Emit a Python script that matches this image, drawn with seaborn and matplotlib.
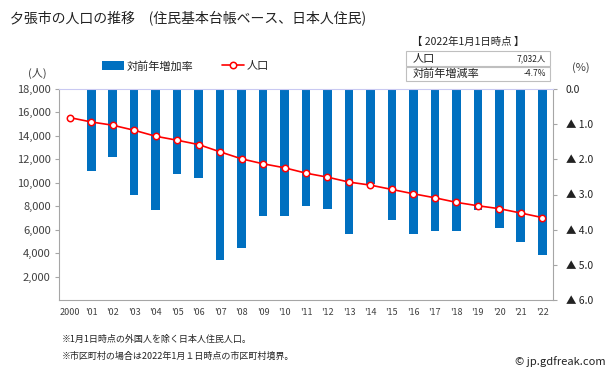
import matplotlib
matplotlib.use('Agg')
import matplotlib.pyplot as plt
from matplotlib.patches import Rectangle
import numpy as np
import seaborn as sns

# data
years = ['2000', "'01", "'02", "'03", "'04", "'05", "'06", "'07", "'08", "'09", "'10",
         "'11", "'12", "'13", "'14", "'15", "'16", "'17", "'18", "'19", "'20", "'21", "'22"]
population = [15560, 15190, 14910, 14480, 13970, 13630, 13260, 12640, 12040, 11620, 11280,
              10820, 10480, 10060, 9800, 9430, 9060, 8720, 8330, 8040, 7790, 7420, 7032]
change_rate = [np.nan, -2.33, -1.92, -3.02, -3.43, -2.42, -2.52, -4.85, -4.53, -3.61, -3.61,
               -3.33, -3.42, -4.13, -2.70, -3.72, -4.13, -4.03, -4.03, -3.43, -3.94, -4.34, -4.72]
pop_ticks = [2000, 4000, 6000, 8000, 10000, 12000, 14000, 16000, 18000]
rate_ticks = [0, -1, -2, -3, -4, -5, -6]

sns.set_style('white')
plt.rcParams['font.family'] = ['Noto Sans CJK JP', 'DejaVu Sans']

BLUE = '#0070C0'
RED = '#FF0000'
GREY = '#A6A6A6'
TXT = '#404040'

fig = plt.figure(figsize=(6.13, 3.74), dpi=100)
ax1 = fig.add_axes([59 / 613, 1 - 300 / 374, (553 - 59) / 613, (300 - 89) / 374])
ax2 = ax1.twinx()

sns.barplot(x=years, y=change_rate, ax=ax2, color=BLUE, width=0.4,
            saturation=1, linewidth=0, label='対前年増加率')
ax2.set_ylim(-6, 0)
ax2.set_yticks(rate_ticks)
ax2.set_yticklabels(['0.0'] + [f'▲ {abs(v):.1f}' for v in rate_ticks[1:]])

pos = np.arange(len(years))
sns.lineplot(x=pos, y=population, ax=ax1, color=RED, linewidth=1.2, marker='o',
             markersize=4.6, markerfacecolor='white', markeredgecolor=RED,
             markeredgewidth=1.1, label='人口')
ax1.set_ylim(0, 18000)
ax1.set_yticks(pop_ticks)
ax1.set_yticklabels([f'{v:,}' for v in pop_ticks])

# line above the bars
ax1.set_zorder(ax2.get_zorder() + 1)
ax1.patch.set_visible(False)

ax1.set_xlim(-0.5, len(years) - 0.5)
ax1.set_xticks(pos)
ax1.set_xticklabels(years)
ax1.set_xticks(np.arange(len(years) + 1) - 0.5, minor=True)
ax1.tick_params(axis='x', which='major', length=0, labelsize=6.5, colors=TXT, pad=6)
ax1.tick_params(axis='x', which='minor', length=3, color=GREY, direction='inout')
ax1.tick_params(axis='y', length=3, color=GREY, labelsize=8, colors=TXT, pad=3,
                direction='out', left=True)
ax2.tick_params(axis='y', length=3, color=GREY, labelsize=7.5, colors='#222222', pad=6,
                direction='out', right=True)
ax1.set_xlabel('')
ax2.set_xlabel('')
ax1.set_ylabel('')
ax2.set_ylabel('')

for ax in (ax1, ax2):
    for s in ax.spines.values():
        s.set_visible(False)
ax1.spines['left'].set_visible(True)
ax1.spines['left'].set_color(GREY)
ax1.spines['bottom'].set_visible(True)
ax1.spines['bottom'].set_color(GREY)
ax1.spines['top'].set_visible(True)
ax1.spines['top'].set_color('#C9C9F2')
ax2.spines['right'].set_visible(True)
ax2.spines['right'].set_color(GREY)

# legend
h1, l1 = ax2.get_legend_handles_labels()
h2, l2 = ax1.get_legend_handles_labels()
for ax in (ax1, ax2):
    if ax.get_legend() is not None:
        ax.get_legend().remove()
fig.legend(h1 + h2, l1 + l2, loc='center left', bbox_to_anchor=(92 / 613, 1 - 66 / 374),
           ncol=2, frameon=False, fontsize=8, handlelength=2.0, handleheight=0.8,
           columnspacing=2.6, handletextpad=0.2, labelcolor='#222222')

# titles and axis units
fig.text(10 / 613, 1 - 18 / 374, '夕張市の人口の推移　(住民基本台帳ベース、日本人住民)',
         fontsize=10, color='#222222', va='center', ha='left')
fig.text(28 / 613, 1 - 73 / 374, '(人)', fontsize=8, color=TXT, va='center', ha='left')
fig.text(572 / 613, 1 - 68 / 374, '(%)', fontsize=8, color=TXT, va='center', ha='left')

# info box
fig.text(412 / 613, 1 - 42 / 374, '【 2022年1月1日時点 】', fontsize=7.5, color='#222222',
         va='center', ha='left')
fig.add_artist(Rectangle((406 / 613, 1 - 66 / 374), 144 / 613, 15 / 374,
                         transform=fig.transFigure, fill=False, edgecolor='#BFBFBF', lw=0.8))
fig.add_artist(Rectangle((406 / 613, 1 - 81 / 374), 144 / 613, 14 / 374,
                         transform=fig.transFigure, fill=False, edgecolor='#BFBFBF', lw=0.8))
fig.text(413 / 613, 1 - 59 / 374, '人口', fontsize=8, color='#222222', va='center')
fig.text(546 / 613, 1 - 59 / 374, f'{population[-1]:,}人', fontsize=6, color='#222222',
         va='center', ha='right')
fig.text(413 / 613, 1 - 74 / 374, '対前年増減率', fontsize=8, color='#222222', va='center')
fig.text(546 / 613, 1 - 74 / 374, f'{change_rate[-1]:.1f}%', fontsize=6, color='#222222',
         va='center', ha='right')

# footnotes
fig.text(62 / 613, 1 - 339 / 374, '※1月1日時点の外国人を除く日本人住民人口。', fontsize=6.5,
         color='#222222', va='center')
fig.text(62 / 613, 1 - 356 / 374, '※市区町村の場合は2022年1月１日時点の市区町村境界。',
         fontsize=6.5, color='#222222', va='center')
fig.text(606 / 613, 1 - 362 / 374, '© jp.gdfreak.com', fontsize=8, color='#222222',
         va='center', ha='right')

fig.savefig('out.png', dpi=100)
